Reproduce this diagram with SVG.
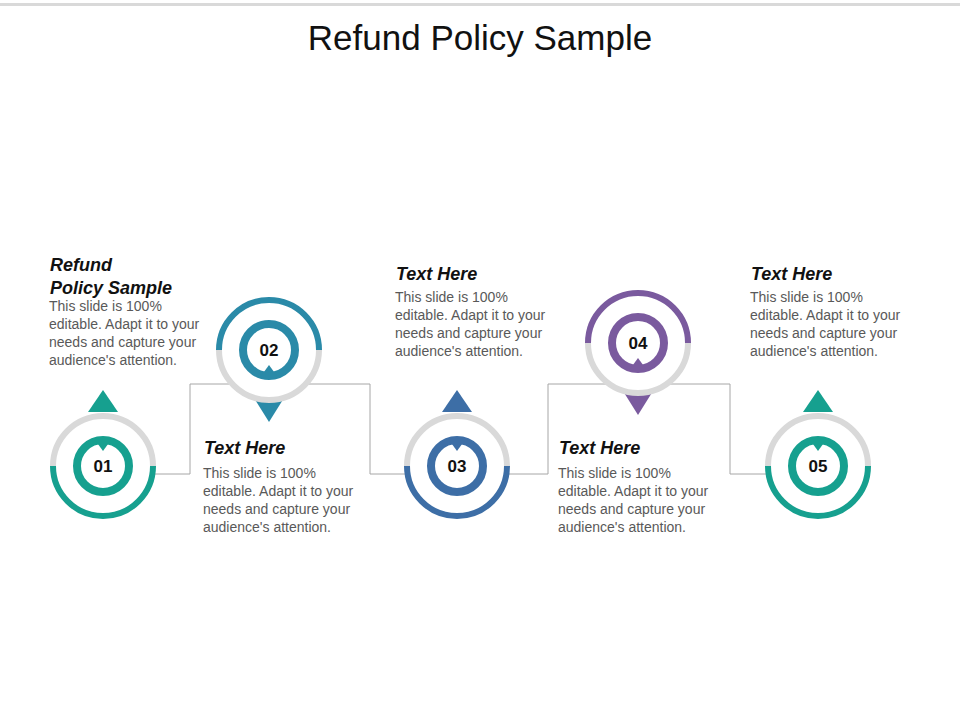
<svg xmlns="http://www.w3.org/2000/svg" width="960" height="720" viewBox="0 0 960 720">
<style>
.t{font-family:"Liberation Sans",Arial,sans-serif;font-size:18px;font-weight:bold;font-style:italic;fill:#111}
.b{font-family:"Liberation Sans",Arial,sans-serif;font-size:14px;fill:#595959}
.n{font-family:"Liberation Sans",Arial,sans-serif;font-size:17px;font-weight:bold;fill:#111;text-anchor:middle}
.g{fill:none;stroke:#d9d9d9;stroke-width:6}
.c{fill:none;stroke-width:6}
.i{fill:none;stroke-width:8}
.l{fill:none;stroke:#a6a6a6;stroke-width:1}
</style>
<rect x="0" y="3" width="960" height="3" fill="#d9d9d9"/>
<text x="480" y="50" font-family="Liberation Sans,Arial,sans-serif" font-size="35" text-anchor="middle" fill="#111">Refund Policy Sample</text>
<g id="connectors">
<polyline class="l" points="153,474 190,474 190,384 370,384 370,474 407,474"/>
<polyline class="l" points="507,474 548,474 548,384 730,384 730,474 767,474"/>
</g>
<g id="node1">
<path d="M88,412 L103,390 L118,412 Z" fill="#16a08f"/>
<circle cx="103" cy="466" r="50" fill="#fff"/>
<path class="g" d="M53,466 A50,50 0 0 1 153,466"/>
<path class="c" stroke="#16a08f" d="M53,466 A50,50 0 0 0 153,466"/>
<circle class="i" stroke="#16a08f" cx="103" cy="466" r="26"/>
<path d="M95,440 L103,451 L111,440 Z" fill="#16a08f"/>
<text class="n" x="103" y="472">01</text>
</g>
<g id="node2">
<path d="M254,398 L269,422 L284,398 Z" fill="#2a8aa8"/>
<circle cx="269" cy="350" r="50" fill="#fff"/>
<path class="c" stroke="#2a8aa8" d="M219,350 A50,50 0 0 1 319,350"/>
<path class="g" d="M219,350 A50,50 0 0 0 319,350"/>
<circle class="i" stroke="#2a8aa8" cx="269" cy="350" r="26"/>
<path d="M261,376 L269,365 L277,376 Z" fill="#2a8aa8"/>
<text class="n" x="269" y="356">02</text>
</g>
<g id="node3">
<path d="M442,412 L457,390 L472,412 Z" fill="#3d6ea6"/>
<circle cx="457" cy="466" r="50" fill="#fff"/>
<path class="g" d="M407,466 A50,50 0 0 1 507,466"/>
<path class="c" stroke="#3d6ea6" d="M407,466 A50,50 0 0 0 507,466"/>
<circle class="i" stroke="#3d6ea6" cx="457" cy="466" r="26"/>
<path d="M449,440 L457,451 L465,440 Z" fill="#3d6ea6"/>
<text class="n" x="457" y="472">03</text>
</g>
<g id="node4">
<path d="M623,391 L638,415 L653,391 Z" fill="#7a5a9e"/>
<circle cx="638" cy="343" r="50" fill="#fff"/>
<path class="c" stroke="#7a5a9e" d="M588,343 A50,50 0 0 1 688,343"/>
<path class="g" d="M588,343 A50,50 0 0 0 688,343"/>
<circle class="i" stroke="#7a5a9e" cx="638" cy="343" r="26"/>
<path d="M630,369 L638,358 L646,369 Z" fill="#7a5a9e"/>
<text class="n" x="638" y="349">04</text>
</g>
<g id="node5">
<path d="M803,412 L818,390 L833,412 Z" fill="#16a08f"/>
<circle cx="818" cy="466" r="50" fill="#fff"/>
<path class="g" d="M768,466 A50,50 0 0 1 868,466"/>
<path class="c" stroke="#16a08f" d="M768,466 A50,50 0 0 0 868,466"/>
<circle class="i" stroke="#16a08f" cx="818" cy="466" r="26"/>
<path d="M810,440 L818,451 L826,440 Z" fill="#16a08f"/>
<text class="n" x="818" y="472">05</text>
</g>
<g id="text1">
<text class="t" x="50" y="271">Refund</text>
<text class="t" x="50" y="294">Policy Sample</text>
<text class="b" x="49" y="311">This slide is 100%</text>
<text class="b" x="49" y="329">editable. Adapt it to your</text>
<text class="b" x="49" y="347">needs and capture your</text>
<text class="b" x="49" y="365">audience's attention.</text>
</g>
<g id="text2">
<text class="t" x="204" y="454">Text Here</text>
<text class="b" x="203" y="478">This slide is 100%</text>
<text class="b" x="203" y="496">editable. Adapt it to your</text>
<text class="b" x="203" y="514">needs and capture your</text>
<text class="b" x="203" y="532">audience's attention.</text>
</g>
<g id="text3">
<text class="t" x="396" y="280">Text Here</text>
<text class="b" x="395" y="302">This slide is 100%</text>
<text class="b" x="395" y="320">editable. Adapt it to your</text>
<text class="b" x="395" y="338">needs and capture your</text>
<text class="b" x="395" y="356">audience's attention.</text>
</g>
<g id="text4">
<text class="t" x="559" y="454">Text Here</text>
<text class="b" x="558" y="478">This slide is 100%</text>
<text class="b" x="558" y="496">editable. Adapt it to your</text>
<text class="b" x="558" y="514">needs and capture your</text>
<text class="b" x="558" y="532">audience's attention.</text>
</g>
<g id="text5">
<text class="t" x="751" y="280">Text Here</text>
<text class="b" x="750" y="302">This slide is 100%</text>
<text class="b" x="750" y="320">editable. Adapt it to your</text>
<text class="b" x="750" y="338">needs and capture your</text>
<text class="b" x="750" y="356">audience's attention.</text>
</g>
</svg>
